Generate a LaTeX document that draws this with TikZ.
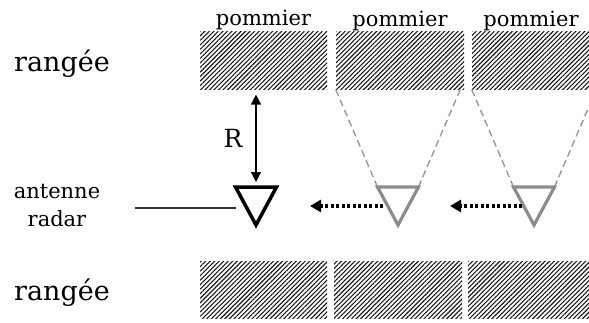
\documentclass[tikz,border=0pt]{standalone}
\usepackage{fontspec}
\setmainfont{DejaVu Serif}
\usetikzlibrary{arrows.meta,patterns.meta,positioning}

\begin{document}
\begin{tikzpicture}[x=1pt,y=-1pt,
    hatch/.style={pattern={Lines[angle=45,distance=3.2pt,line width=1.1pt]},
      pattern color=black!90, inner sep=0pt},
    lbl/.style={font=\fontsize{21}{28}\selectfont, inner sep=0pt},
    big/.style={font=\fontsize{27}{30}\selectfont, inner sep=0pt, anchor=base},
    antenna/.style={line width=3.2pt, line join=miter},
    beam/.style={black!40, line width=1.4pt, dash pattern=on 7pt off 4pt},
    move/.style={-{Triangle[length=11pt,width=12pt]}, line width=3.5pt,
      dash pattern=on 3pt off 2.5pt},
    dim/.style={{Triangle[length=10pt,width=10pt]}-{Triangle[length=10pt,width=10pt]},
      line width=1.3pt},
  ]
  \useasboundingbox (0,0) rectangle (589,322);

  % Rows of apple trees
  \foreach \n/\x/\w in {1/263.5/127, 2/400/128, 3/531/118} {
    \node[hatch, minimum width=\w pt, minimum height=58pt] (top\n) at (\x,60) {};
    \node[lbl, above=0pt of top\n] (pom\n) {pommier};
  }
  \foreach \n/\x/\w in {1/263.5/127, 2/398/128, 3/529/122} {
    \node[hatch, minimum width=\w pt, minimum height=57pt] (bot\n) at (\x,289.5) {};
  }
  \node[big] (row1) at (62,71) {rangée};
  \node[big] (row2) at (62,300) {rangée};

  % Antenna positions
  \foreach \n/\x/\c in {1/256/black, 2/398/black!45, 3/534/black!45} {
    \coordinate (ant\n) at (\x,206);
    \coordinate (ant\n-w) at (\x-20.5,187);
    \coordinate (ant\n-e) at (\x+20.5,187);
    \coordinate (ant\n-s) at (\x,225);
    \coordinate (ant\n-n) at (\x,187);
  }
  % Beams
  \foreach \n in {2,3} {
    \draw[beam] (ant\n-w) -- ++(-42,-98);
    \draw[beam] (ant\n-e) -- ++(42,-98);
  }
  \draw[antenna, black!45] (ant2-w) -- (ant2-e) -- (ant2-s) -- cycle;
  \draw[antenna, black!45] (ant3-w) -- (ant3-e) -- (ant3-s) -- cycle;
  \draw[antenna, line width=3.5pt] (ant1-w) -- (ant1-e) -- (ant1-s) -- cycle;

  % Displacement
  \draw[move] ([xshift=-15pt]ant2) -- ([xshift=54pt]ant1);
  \draw[move] ([xshift=-12pt]ant3) -- ([xshift=52pt]ant2);

  % Distance to the row
  \draw[dim, shorten <=5pt, shorten >=5pt] (top1.south -| ant1) -- (ant1-n)
    node[midway, left=13pt, font=\fontsize{25}{28}\selectfont, inner sep=0pt] (rdist) {R};

  % Antenna label
  \node[lbl, align=center] (radar) at (57,206) {antenne\\radar};
  \coordinate (cable) at (135,208);
  \draw[line width=1.5pt, black!80] (cable) -- (cable -| ant1-w);

\end{tikzpicture}
\end{document}
